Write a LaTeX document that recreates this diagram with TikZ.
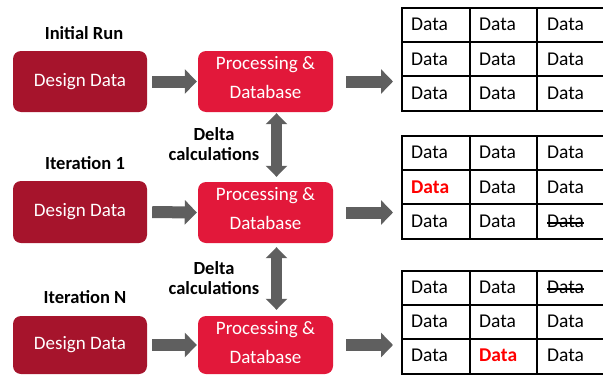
\documentclass[tikz,border=0pt]{standalone}
\usepackage{fontspec}
\setmainfont{Carlito}
\usetikzlibrary{arrows.meta}
\definecolor{darkred}{HTML}{A6142C}
\definecolor{brightred}{HTML}{E2183A}
\definecolor{arrowgray}{HTML}{5F5F5F}
\definecolor{datared}{HTML}{FF0000}
\begin{document}
\begin{tikzpicture}[x=1pt,y=-1pt,
  designbox/.style={fill=darkred, rounded corners=8pt, minimum width=134pt, inner sep=0pt,
    text=white, font=\fontsize{19}{23}\selectfont},
  procbox/.style={fill=brightred, rounded corners=8pt, minimum width=135pt, inner sep=0pt},
  proctext/.style={text=white, align=center, inner sep=0pt, font=\fontsize{19}{29}\selectfont},
  steplabel/.style={font=\bfseries\fontsize{18.5}{20}\selectfont, inner sep=0pt},
  deltalabel/.style={font=\bfseries\fontsize{18.5}{20}\selectfont, align=center, inner sep=0pt},
  blockarrow/.style={draw=arrowgray, line width=12pt, -{Triangle[length=12pt,width=24pt]}},
  dblarrow/.style={draw=arrowgray, line width=11pt, {Triangle[length=11pt,width=21pt]}-{Triangle[length=11pt,width=21pt]}},
  tablebox/.style={draw=black, line width=2pt, minimum width=204pt, minimum height=103pt, inner sep=0pt, anchor=north west},
  gridline/.style={draw=black, line width=2pt},
  cell/.style={anchor=west, inner sep=0pt, font=\fontsize{19.5}{22}\selectfont},
  redcell/.style={cell, text=datared, font=\bfseries\fontsize{19.5}{22}\selectfont},
  strikeline/.style={draw=black, line width=1.6pt}
]
\useasboundingbox (0,0) rectangle (603,375);

% step labels
\node[steplabel] (l1) at (84,33) {Initial Run};
\node[steplabel] (l2) at (85,163) {Iteration 1};
\node[steplabel] (l3) at (85,297) {Iteration N};

% design boxes
\node[designbox, minimum height=61pt] (d1) at (80,81.5) {Design Data};
\node[designbox, minimum height=62pt] (d2) at (80,212) {Design Data};
\node[designbox, minimum height=58pt] (d3) at (80,345) {Design Data};

% processing boxes
\node[procbox, minimum height=61pt] (p1) at (265.5,81.5) {};
\node[procbox, minimum height=61pt] (p2) at (265.5,212.5) {};
\node[procbox, minimum height=58pt] (p3) at (265.5,345) {};
\node[proctext] (p1t) at (265.5,77.5) {Processing \&\\Database};
\node[proctext] (p2t) at (265.5,208.5) {Processing \&\\Database};
\node[proctext] (p3t) at (265.5,342.5) {Processing \&\\Database};

% delta labels
\node[deltalabel] (dl1) at (214,144) {Delta\\calculations};
\node[deltalabel] (dl2) at (214,278) {Delta\\calculations};

% tables
\node[tablebox] (t1) at (401,7) {};
\node[tablebox] (t2) at (401,135) {};
\node[tablebox] (t3) at (401,270) {};
\foreach \t in {t1,t2,t3}{
  \draw[gridline] ([xshift=69pt]\t.north west) -- ([xshift=69pt]\t.south west);
  \draw[gridline] ([xshift=136pt]\t.north west) -- ([xshift=136pt]\t.south west);
  \draw[gridline] ([yshift=-34.5pt]\t.north west) -- ([yshift=-34.5pt]\t.north east);
  \draw[gridline] ([yshift=-69pt]\t.north west) -- ([yshift=-69pt]\t.north east);
}

% table 1 cells
\foreach \r/\y in {1/24.5,2/59,3/93}{
  \foreach \c/\x in {1/411,2/479,3/547}{
    \node[cell] (a\r\c) at (\x,\y) {Data};
  }
}
% table 2 cells
\foreach \n/\x/\y/\s in {11/411/152.5/cell,12/479/152.5/cell,13/547/152.5/cell,
  21/411/187/redcell,22/479/187/cell,23/547/187/cell,
  31/411/221/cell,32/479/221/cell,33/547/221/cell}{
  \node[\s] (b\n) at (\x,\y) {Data};
}
% table 3 cells
\foreach \n/\x/\y/\s in {11/411/287/cell,12/479/287/cell,13/547/287/cell,
  21/411/321/cell,22/479/321/cell,23/547/321/cell,
  31/411/355.5/cell,32/479/355.5/redcell,33/547/355.5/cell}{
  \node[\s] (c\n) at (\x,\y) {Data};
}
\draw[strikeline] ([yshift=-2pt]b33.west) -- ([yshift=-2pt]b33.east);
\draw[strikeline] ([yshift=-2pt]c13.west) -- ([yshift=-2pt]c13.east);

% arrows design -> processing
\draw[blockarrow, shorten <=5pt, shorten >=1pt] (d1.east) -- (p1.west);
\draw[blockarrow, shorten <=5pt, shorten >=1pt] (d2.east) -- (p2.west);
\draw[blockarrow, shorten <=5pt, shorten >=1pt] (d3.east) -- (p3.west);

% arrows processing -> tables
\draw[blockarrow, shorten <=13pt, shorten >=8pt] (p1.east) -- (p1.east -| t1.west);
\draw[blockarrow, shorten <=13pt, shorten >=8pt] (p2.east) -- (p2.east -| t2.west);
\draw[blockarrow, shorten <=13pt, shorten >=8pt] (p3.east) -- (p3.east -| t3.west);

% delta double arrows
\draw[dblarrow, shorten <=1pt, shorten >=5pt] ([xshift=11pt]p1.south) -- ([xshift=11pt]p2.north);
\draw[dblarrow, shorten <=4pt, shorten >=6pt] ([xshift=11pt]p2.south) -- ([xshift=11pt]p3.north);
\end{tikzpicture}
\end{document}
